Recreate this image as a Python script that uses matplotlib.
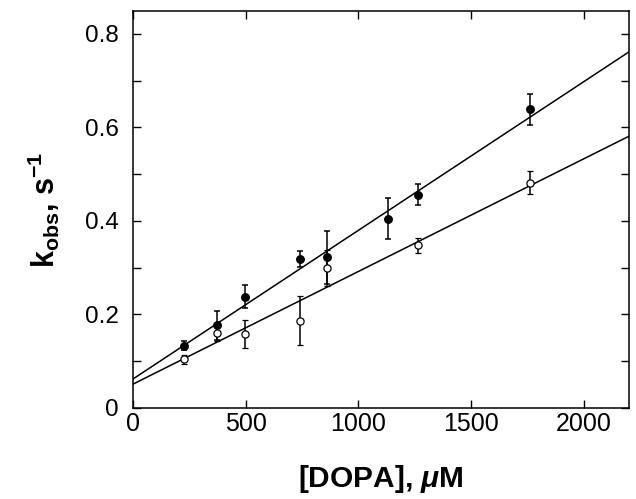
import matplotlib
matplotlib.use('Agg')
import matplotlib.pyplot as plt
import numpy as np

plt.rcParams['font.family'] = 'Liberation Sans'
plt.rcParams['mathtext.fontset'] = 'custom'
plt.rcParams['mathtext.rm'] = 'Liberation Sans:bold'
plt.rcParams['mathtext.it'] = 'Liberation Sans:bold:italic'
plt.rcParams['mathtext.bf'] = 'Liberation Sans:bold'

# filled circles
dopa_filled = [228, 372, 495, 739, 862, 1131, 1266, 1761]
kobs_filled = [0.133, 0.177, 0.238, 0.318, 0.322, 0.405, 0.456, 0.639]
err_filled = [0.010, 0.031, 0.024, 0.017, 0.056, 0.043, 0.022, 0.033]

# open circles
dopa_open = [228, 372, 495, 739, 862, 1266, 1761]
kobs_open = [0.104, 0.160, 0.159, 0.187, 0.299, 0.348, 0.482]
err_open = [0.010, 0.016, 0.030, 0.053, 0.038, 0.016, 0.025]

# linear fits (intercept, slope per uM)
fit_filled = (0.062, 3.18e-4)
fit_open = (0.051, 2.41e-4)

fig = plt.figure(figsize=(6.36, 4.99), dpi=100)
ax = fig.add_axes([0.2091, 0.1824, 0.7799, 0.7956])

xs = np.array([0, 2200])
ax.plot(xs, fit_filled[0] + fit_filled[1] * xs, color='black', lw=1.1)
ax.plot(xs, fit_open[0] + fit_open[1] * xs, color='black', lw=1.1)

ax.errorbar(dopa_filled, kobs_filled, yerr=err_filled, fmt='o', color='black',
            ms=5.4, capsize=2.5, elinewidth=1.1, capthick=1.1, zorder=3)
ax.errorbar(dopa_open, kobs_open, yerr=err_open, fmt='o', color='black',
            mfc='white', mec='black', mew=0.9, ms=5.2, capsize=2.5,
            elinewidth=1.1, capthick=1.1, zorder=3)

ax.set_xlim(0, 2200)
ax.set_ylim(0, 0.849)
ax.set_xticks([0, 500, 1000, 1500, 2000])
ax.set_xticklabels(['0', '500', '1000', '1500', '2000'])
ax.set_yticks([0, 0.1, 0.2, 0.3, 0.4, 0.5, 0.6, 0.7, 0.8])
ax.set_yticklabels(['0', '', '0.2', '', '0.4', '', '0.6', '', '0.8'])

ax.tick_params(axis='x', direction='in', top=True, length=6, width=1,
               labelsize=18, pad=3)
ax.tick_params(axis='y', direction='in', right=True, length=6, width=1,
               labelsize=17.5, pad=10)
for s in ax.spines.values():
    s.set_linewidth(1.1)

ax.set_xlabel(r'[DOPA], $\mu$M', fontsize=21.5, fontweight='bold', labelpad=19)
ax.set_ylabel(r'k$_{\mathrm{obs}}$, s$^{-1}$', fontsize=22, fontweight='bold',
              labelpad=17)

fig.savefig('out.png', dpi=100)
